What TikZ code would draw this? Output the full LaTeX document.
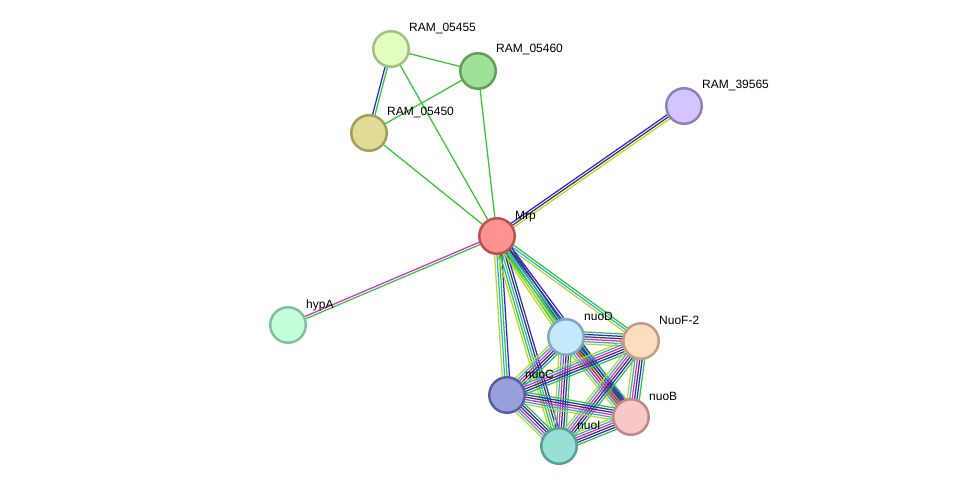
\documentclass[tikz,border=0pt]{standalone}
\usepackage{fontspec}
\setmainfont{Liberation Sans}
\usetikzlibrary{calc,backgrounds}
\definecolor{eg}{RGB}{50,200,50}
\definecolor{eb}{RGB}{40,40,240}
\definecolor{ek}{RGB}{60,60,60}
\definecolor{ec}{RGB}{40,180,215}
\definecolor{em}{RGB}{220,40,220}
\definecolor{ey}{RGB}{190,212,40}
\definecolor{er}{RGB}{240,40,40}
\tikzset{
  prot/.style={circle, minimum size=35.5pt, inner sep=0pt, line width=2.5pt},
  lbl/.style={anchor=base west, font=\fontsize{12}{12}\selectfont, inner sep=0pt},
}
% #1 a, #2 b, #3 number of lines, #4 colour list
\newcommand{\sedge}[4]{%
  \foreach \cc [count=\ii] in {#4}{%
    \pgfmathsetmacro{\off}{(\ii-(#3+1)/2)*2.4}%
    \draw[color=\cc, line width=1.25pt] let \p1=($(#2)-(#1)$), \n1={atan2(\y1,\x1)} in
      ([shift={(\n1+90:\off pt)}]#1.center) -- ([shift={(\n1+90:\off pt)}]#2.center);
  }%
}
\begin{document}
\begin{tikzpicture}[x=1pt,y=-1pt]
\useasboundingbox (0,0) rectangle (976,492);
% nodes
\node[prot, fill={rgb,255:red,224;green,255;blue,192}, draw={rgb,255:red,164;green,192;blue,128}] (n55) at (391,49) {};
\node[prot, fill={rgb,255:red,160;green,224;blue,152}, draw={rgb,255:red,96;green,160;blue,88}] (n60) at (478,71) {};
\node[prot, fill={rgb,255:red,224;green,220;blue,152}, draw={rgb,255:red,160;green,160;blue,88}] (n50) at (369,133) {};
\node[prot, fill={rgb,255:red,212;green,196;blue,255}, draw={rgb,255:red,144;green,128;blue,192}] (n39) at (684,106) {};
\node[prot, fill={rgb,255:red,255;green,145;blue,145}, draw={rgb,255:red,192;green,80;blue,80}] (mrp) at (497,236) {};
\node[prot, fill={rgb,255:red,196;green,255;blue,220}, draw={rgb,255:red,128;green,192;blue,160}] (hypa) at (288,325) {};
\node[prot, fill={rgb,255:red,196;green,232;blue,252}, draw={rgb,255:red,128;green,168;blue,192}] (nuod) at (566,337) {};
\node[prot, fill={rgb,255:red,255;green,220;blue,192}, draw={rgb,255:red,192;green,160;blue,128}] (nuof) at (641,341) {};
\node[prot, fill={rgb,255:red,152;green,160;blue,220}, draw={rgb,255:red,88;green,96;blue,160}] (nuoc) at (507,395) {};
\node[prot, fill={rgb,255:red,248;green,200;blue,200}, draw={rgb,255:red,192;green,136;blue,136}] (nuob) at (631,417) {};
\node[prot, fill={rgb,255:red,152;green,224;blue,212}, draw={rgb,255:red,88;green,160;blue,152}] (nuoi) at (559,446) {};
% labels
\node[lbl] (l55) at ([shift={(18,-17)}]n55.center) {RAM\_05455};
\node[lbl] (l60) at ([shift={(18,-18)}]n60.center) {RAM\_05460};
\node[lbl] (l50) at ([shift={(18,-17)}]n50.center) {RAM\_05450};
\node[lbl] (l39) at ([shift={(18,-17)}]n39.center) {RAM\_39565};
\node[lbl] (lmrp) at ([shift={(18,-17)}]mrp.center) {Mrp};
\node[lbl] (lhyp) at ([shift={(18,-17)}]hypa.center) {hypA};
\node[lbl] (lnd) at ([shift={(18,-17)}]nuod.center) {nuoD};
\node[lbl] (lnf) at ([shift={(18,-17)}]nuof.center) {NuoF-2};
\node[lbl] (lnc) at ([shift={(18,-17)}]nuoc.center) {nuoC};
\node[lbl] (lnb) at ([shift={(18,-17)}]nuob.center) {nuoB};
\node[lbl] (lni) at ([shift={(18,-17)}]nuoi.center) {nuoI};
% edges
\begin{pgfonlayer}{background}
\fill[white] (0,0) rectangle (976,492);
\sedge{n55}{n60}{1}{eg}
\sedge{n55}{n50}{2}{eb,eg}
\sedge{n55}{mrp}{1}{eg}
\sedge{n60}{n50}{1}{eg}
\sedge{n60}{mrp}{1}{eg}
\sedge{n50}{mrp}{1}{eg}
\sedge{mrp}{n39}{3}{ey,ek,eb}
\sedge{mrp}{hypa}{2}{em,eg}
\sedge{mrp}{nuod}{5}{ey,eg,ec,ek,eb}
\sedge{mrp}{nuof}{3}{ey,ec,eg}
\sedge{mrp}{nuoc}{4}{ey,ec,eg,eb}
\sedge{mrp}{nuoi}{5}{ey,eg,ec,ek,eb}
\sedge{mrp}{nuob}{5}{ey,eg,ec,ek,eb}
\sedge{nuod}{nuof}{6}{ey,ec,em,ek,eb,eg}
\sedge{nuod}{nuoc}{6}{ey,ec,em,ek,eb,eg}
\sedge{nuod}{nuob}{7}{ey,ec,em,er,ek,eb,eg}
\sedge{nuod}{nuoi}{6}{ey,ec,em,ek,eb,eg}
\sedge{nuof}{nuoc}{6}{ey,ec,em,ek,eb,eg}
\sedge{nuof}{nuob}{6}{ey,ec,em,ek,eb,eg}
\sedge{nuof}{nuoi}{6}{ey,ec,em,ek,eb,eg}
\sedge{nuoc}{nuob}{6}{ey,ec,em,ek,eb,eg}
\sedge{nuoc}{nuoi}{6}{ey,ec,em,ek,eb,eg}
\sedge{nuob}{nuoi}{6}{ey,ec,em,ek,eb,eg}
\end{pgfonlayer}
\end{tikzpicture}
\end{document}
